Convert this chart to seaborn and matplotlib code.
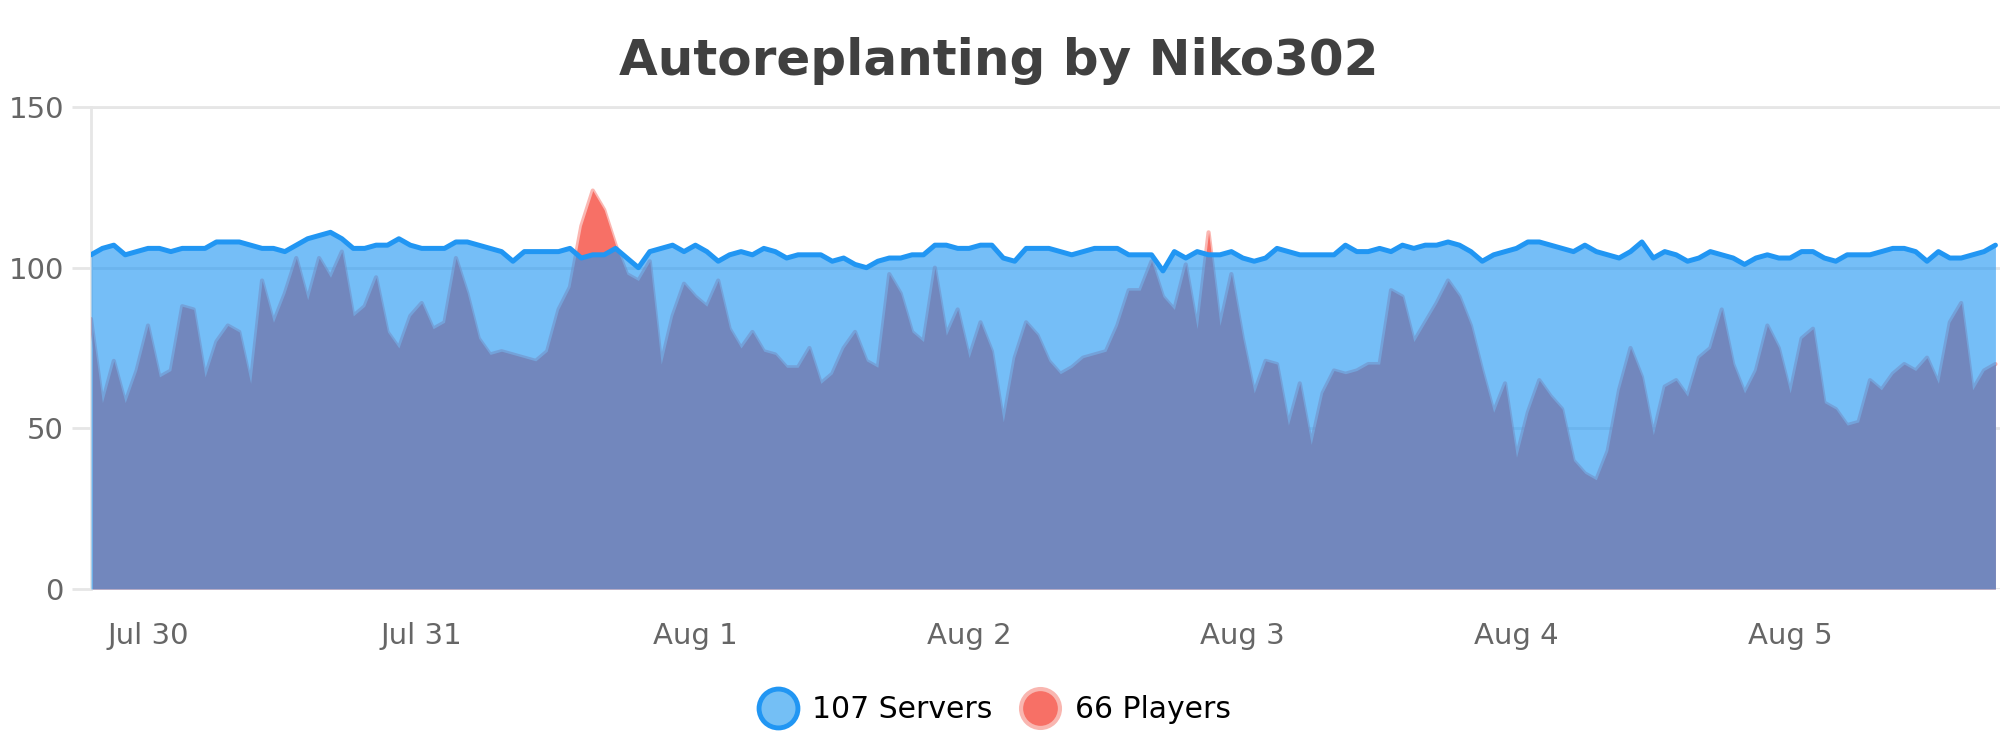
import matplotlib
matplotlib.use("Agg")
import matplotlib.pyplot as plt
from matplotlib.lines import Line2D
import pandas as pd
import seaborn as sns

# hourly samples, first one at Jul 29 19:00
start = "2021-07-29 19:00"

servers = [
    104, 106, 107, 104, 105, 106, 106, 105, 106, 106,
    106, 108, 108, 108, 107, 106, 106, 105, 107, 109,
    110, 111, 109, 106, 106, 107, 107, 109, 107, 106,
    106, 106, 108, 108, 107, 106, 105, 102, 105, 105,
    105, 105, 106, 103, 104, 104, 106, 103, 100, 105,
    106, 107, 105, 107, 105, 102, 104, 105, 104, 106,
    105, 103, 104, 104, 104, 102, 103, 101, 100, 102,
    103, 103, 104, 104, 107, 107, 106, 106, 107, 107,
    103, 102, 106, 106, 106, 105, 104, 105, 106, 106,
    106, 104, 104, 104, 99, 105, 103, 105, 104, 104,
    105, 103, 102, 103, 106, 105, 104, 104, 104, 104,
    107, 105, 105, 106, 105, 107, 106, 107, 107, 108,
    107, 105, 102, 104, 105, 106, 108, 108, 107, 106,
    105, 107, 105, 104, 103, 105, 108, 103, 105, 104,
    102, 103, 105, 104, 103, 101, 103, 104, 103, 103,
    105, 105, 103, 102, 104, 104, 104, 105, 106, 106,
    105, 102, 105, 103, 103, 104, 105, 107,
]

players = [
    84, 58, 71, 58, 68, 82, 66, 68, 88, 87,
    66, 77, 82, 80, 64, 96, 83, 92, 103, 90,
    103, 97, 105, 85, 88, 97, 80, 75, 85, 89,
    81, 83, 103, 92, 78, 73, 74, 73, 72, 71,
    74, 87, 94, 113, 124, 118, 107, 98, 96, 102,
    70, 85, 95, 91, 88, 96, 81, 75, 80, 74,
    73, 69, 69, 75, 64, 67, 75, 80, 71, 69,
    98, 92, 80, 77, 100, 79, 87, 72, 83, 74,
    52, 72, 83, 79, 71, 67, 69, 72, 73, 74,
    82, 93, 93, 102, 91, 87, 101, 81, 111, 82,
    98, 78, 61, 71, 70, 51, 64, 45, 61, 68,
    67, 68, 70, 70, 93, 91, 77, 83, 89, 96,
    91, 82, 68, 55, 64, 41, 55, 65, 60, 56,
    40, 36, 34, 43, 62, 75, 66, 48, 63, 65,
    60, 72, 75, 87, 70, 61, 68, 82, 75, 61,
    78, 81, 58, 56, 51, 52, 65, 62, 67, 70,
    68, 72, 64, 83, 89, 62, 68, 70,
]

day_ticks = ["2021-07-30", "2021-07-31", "2021-08-01", "2021-08-02",
             "2021-08-03", "2021-08-04", "2021-08-05"]
day_labels = ["Jul 30", "Jul 31", "Aug 1", "Aug 2", "Aug 3", "Aug 4", "Aug 5"]
legend_labels = ["107 Servers", "66 Players"]

times = pd.date_range(start, periods=len(servers), freq="h")
df = pd.DataFrame({"time": times, "Servers": servers, "Players": players})

sns.set_theme(style="white")
plt.rcParams["font.family"] = ["DejaVu Sans"]

BLUE = "#2196f3"
RED = "#f77066"
GRID = "#e6e6e6"

fig = plt.figure(figsize=(20, 7.5), dpi=100)
ax = fig.add_axes([91 / 2000, 1 - 589 / 750, 1 - 91 / 2000, (589 - 107) / 750])

# players underneath, servers drawn over it half transparent
ax.fill_between(df["time"], df["Players"], color=RED, lw=0, zorder=2)
sns.lineplot(data=df, x="time", y="Players", color=RED, alpha=0.5, lw=3,
             ax=ax, zorder=3)
ax.fill_between(df["time"], df["Servers"], color=BLUE, alpha=0.62, lw=0, zorder=4)
sns.lineplot(data=df, x="time", y="Servers", color=BLUE, lw=3.6, ax=ax, zorder=5)

ax.set_xlim(times[0], times[0] + pd.Timedelta(hours=167.4))
ax.set_ylim(0, 150)
ax.set_yticks([0, 50, 100, 150])
ax.set_xticks(pd.to_datetime(day_ticks))
ax.set_xticklabels(day_labels)
ax.set_xlabel("")
ax.set_ylabel("")

ax.set_axisbelow(True)
ax.yaxis.grid(True, color=GRID, lw=2)
ax.xaxis.grid(False)
for side in ["right", "bottom"]:
    ax.spines[side].set_visible(False)
ax.spines["left"].set_color(GRID)
ax.spines["left"].set_linewidth(2)
ax.spines["top"].set_color(GRID)
ax.spines["top"].set_linewidth(2)

ax.tick_params(axis="y", length=13.7, width=2, color=GRID, pad=5.8,
               labelsize=21, labelcolor="#666666", left=True)
ax.tick_params(axis="x", length=0, pad=24, labelsize=21, labelcolor="#666666")

fig.text(999 / 2000, 1 - 75 / 750, "Autoreplanting by Niko302", ha="center",
         va="baseline", fontsize=36, fontweight="bold", color="#404040")

handles = [
    Line2D([], [], ls="", marker="o", markersize=28, markerfacecolor="#74bff5",
           markeredgecolor=BLUE, markeredgewidth=3.5),
    Line2D([], [], ls="", marker="o", markersize=28, markerfacecolor=RED,
           markeredgecolor="#f9b6b0", markeredgewidth=3),
]
fig.legend(handles, legend_labels, loc="center", ncol=2, frameon=False,
           bbox_to_anchor=(993 / 2000, 1 - 710 / 750), fontsize=21.5,
           handlelength=1.5, handletextpad=0.4, columnspacing=0.86,
           borderpad=0, labelcolor="black")

fig.savefig("out.png", dpi=100)
